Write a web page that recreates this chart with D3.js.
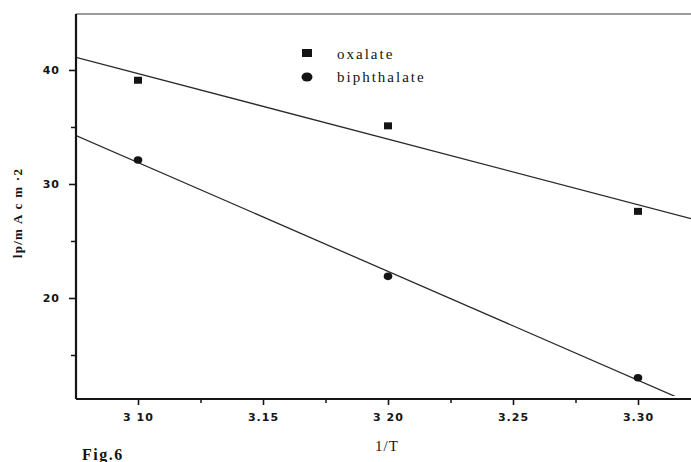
<!DOCTYPE html>
<html>
<head>
<meta charset="utf-8">
<script src="https://cdn.jsdelivr.net/npm/d3@7"></script>
<style>
  html, body { margin: 0; padding: 0; background: #fff; }
  svg { display: block; }
</style>
</head>
<body>
<svg id="chart" width="691" height="462"></svg>
<script>
// Peak current vs. reciprocal temperature for two electrolytes
const invT = [3.10, 3.20, 3.30];
const oxalate = [39.1, 35.1, 27.6];
const biphthalate = [32.1, 21.9, 13.0];
const seriesNames = ["oxalate", "biphthalate"];

const xMajorTicks = [3.10, 3.15, 3.20, 3.25, 3.30];
const xTickLabels = ["3 10", "3.15", "3 20", "3.25", "3.30"];
const xMinorTicks = [3.125, 3.175, 3.225, 3.275];
const yMajorTicks = [20, 30, 40];
const yMinorTicks = [15, 25, 35];

const svg = d3.select("#chart");
const W = 691;
const plot = { left: 76, right: 691, top: 14, bottom: 399 };

const x = d3.scaleLinear().domain([3.0752, 3.3212]).range([plot.left, plot.right]);
const y = d3.scaleLinear().domain([11.14, 44.91]).range([plot.bottom, plot.top]);

const ink = "#141414";

// least-squares fit line
function fit(xs, ys) {
  const n = xs.length;
  const mx = d3.mean(xs), my = d3.mean(ys);
  let sxy = 0, sxx = 0;
  for (let i = 0; i < n; i++) { sxy += (xs[i] - mx) * (ys[i] - my); sxx += (xs[i] - mx) ** 2; }
  const b = sxy / sxx;
  return { b, a: my - b * mx };
}

svg.append("defs").append("clipPath").attr("id", "plotclip")
  .append("rect").attr("x", plot.left).attr("y", plot.top)
  .attr("width", plot.right - plot.left).attr("height", plot.bottom - plot.top - 3);

// top frame line
svg.append("line")
  .attr("x1", plot.left).attr("x2", plot.right)
  .attr("y1", plot.top).attr("y2", plot.top)
  .attr("stroke", "#7a7a7a").attr("stroke-width", 1.6);

// regression lines
const lineG = svg.append("g").attr("clip-path", "url(#plotclip)");
[oxalate, biphthalate].forEach(vals => {
  const f = fit(invT, vals);
  const xs = x.domain();
  lineG.append("line")
    .attr("x1", x(xs[0])).attr("y1", y(f.a + f.b * xs[0]))
    .attr("x2", x(xs[1])).attr("y2", y(f.a + f.b * xs[1]))
    .attr("stroke", "#2a2a2a").attr("stroke-width", 1.3);
});

// x axis
const xAxis = svg.append("g").attr("transform", `translate(0,${plot.bottom})`)
  .call(d3.axisBottom(x).tickValues(xMajorTicks).tickSize(6)
    .tickFormat((d, i) => xTickLabels[i]));
svg.append("g").attr("transform", `translate(0,${plot.bottom})`)
  .call(d3.axisBottom(x).tickValues(xMinorTicks).tickSize(4).tickFormat(""))
  .call(g => g.select(".domain").remove())
  .selectAll("line").attr("stroke", ink).attr("stroke-width", 1.5);
xAxis.select(".domain").attr("d", `M${plot.left},0H${W}`).attr("stroke", ink).attr("stroke-width", 2);
xAxis.selectAll(".tick line").attr("stroke", ink).attr("stroke-width", 1.6);
xAxis.selectAll(".tick text")
  .attr("y", 14).attr("fill", ink)
  .style("font-family", "'DejaVu Sans', sans-serif")
  .style("font-size", "11px").style("font-weight", "bold")
  .style("letter-spacing", "1px");

// y axis
const yAxis = svg.append("g").attr("transform", `translate(${plot.left},0)`)
  .call(d3.axisLeft(y).tickValues(yMajorTicks).tickSize(7).tickFormat(d3.format("d")));
svg.append("g").attr("transform", `translate(${plot.left},0)`)
  .call(d3.axisLeft(y).tickValues(yMinorTicks).tickSize(5).tickFormat(""))
  .call(g => g.select(".domain").remove())
  .selectAll("line").attr("stroke", ink).attr("stroke-width", 1.5);
yAxis.select(".domain").attr("d", `M0,${plot.top}V${plot.bottom}`).attr("stroke", ink).attr("stroke-width", 2.2);
yAxis.selectAll(".tick line").attr("stroke", ink).attr("stroke-width", 1.6);
yAxis.selectAll(".tick text")
  .attr("x", -16).attr("fill", ink)
  .style("font-family", "'DejaVu Sans', sans-serif")
  .style("font-size", "11px").style("font-weight", "bold")
  .style("letter-spacing", "1px");

// markers
const pts = svg.append("g");
pts.selectAll("rect.ox").data(invT).join("rect").attr("class", "ox")
  .attr("x", (d) => x(d) - 4).attr("y", (d, i) => y(oxalate[i]) - 3.5)
  .attr("width", 8).attr("height", 7).attr("fill", ink);
pts.selectAll("ellipse.bi").data(invT).join("ellipse").attr("class", "bi")
  .attr("cx", (d) => x(d)).attr("cy", (d, i) => y(biphthalate[i]))
  .attr("rx", 4.3).attr("ry", 3.8).attr("fill", ink);

// legend
const leg = svg.append("g").attr("transform", "translate(307,0)");
leg.append("rect").attr("x", -5).attr("y", 49).attr("width", 10).attr("height", 8).attr("fill", ink);
leg.append("ellipse").attr("cx", 0).attr("cy", 77).attr("rx", 5.5).attr("ry", 4.5).attr("fill", ink);
leg.selectAll("text").data(seriesNames).join("text")
  .attr("x", 30).attr("y", (d, i) => 59 + i * 23)
  .attr("fill", ink)
  .style("font-family", "'Liberation Serif', serif")
  .style("font-size", "15px")
  .style("letter-spacing", "2px")
  .text(d => d);

// axis titles
svg.append("text")
  .attr("transform", "translate(22,213) rotate(-90)")
  .attr("text-anchor", "middle").attr("fill", ink)
  .style("font-family", "'Liberation Serif', serif")
  .style("font-size", "13px").style("font-weight", "bold")
  .style("letter-spacing", "1.3px")
  .text("lp/m A c m ·2");

svg.append("text")
  .attr("x", 387).attr("y", 451)
  .attr("text-anchor", "middle").attr("fill", ink)
  .style("font-family", "'Liberation Serif', serif")
  .style("font-size", "15px")
  .style("letter-spacing", "1px")
  .text("1/T");

svg.append("text")
  .attr("x", 82).attr("y", 460)
  .attr("fill", ink)
  .style("font-family", "'Liberation Serif', serif")
  .style("font-size", "16px").style("font-weight", "bold")
  .style("letter-spacing", "1.5px")
  .text("Fig.6");
</script>
</body>
</html>
